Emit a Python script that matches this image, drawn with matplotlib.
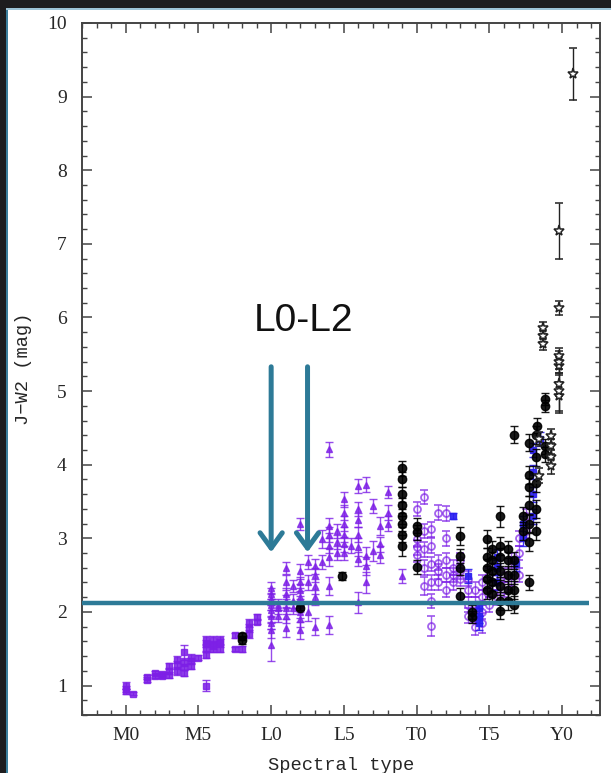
import matplotlib
matplotlib.use("Agg")
import matplotlib.pyplot as plt
from matplotlib.patches import Rectangle
from matplotlib.ticker import MultipleLocator, FixedLocator, FixedFormatter

# Spectral type is numeric: M0=0, L0=10, T0=20, Y0=30
tick_pos = [0, 5, 10, 15, 20, 25, 30]
tick_lab = ["M0", "M5", "L0", "L5", "T0", "T5", "Y0"]

# M dwarfs (purple squares)
m_spt = [0.0, 0.0, 0.0, 0.5, 1.5, 1.5, 2.0, 2.0, 2.5, 2.5, 3.0, 3.0, 3.0,
         3.5, 3.5, 3.5, 4.0, 4.0, 4.0, 4.0, 4.5, 4.5, 4.5, 5.0,
         5.5, 5.5, 5.5, 5.5, 5.5, 6.0, 6.0, 6.0, 6.5, 6.5, 6.5,
         7.5, 7.5, 8.0, 8.5, 8.5, 8.5, 9.0, 9.0]
m_col = [1.00, 0.95, 0.92, 0.89, 1.08, 1.12, 1.13, 1.17, 1.13, 1.16, 1.14, 1.20, 1.26,
         1.20, 1.28, 1.35, 1.17, 1.25, 1.32, 1.45, 1.27, 1.33, 1.38, 1.38,
         1.00, 1.42, 1.50, 1.57, 1.62, 1.50, 1.55, 1.62, 1.50, 1.58, 1.62,
         1.50, 1.68, 1.50, 1.70, 1.78, 1.85, 1.87, 1.93]
m_err = [0.05, 0.04, 0.03, 0.02, 0.03, 0.03, 0.03, 0.03, 0.03, 0.03, 0.04, 0.04, 0.04,
         0.05, 0.05, 0.05, 0.04, 0.04, 0.05, 0.10, 0.04, 0.04, 0.05, 0.03,
         0.08, 0.05, 0.05, 0.05, 0.05, 0.05, 0.05, 0.05, 0.05, 0.05, 0.05,
         0.03, 0.04, 0.04, 0.05, 0.05, 0.05, 0.04, 0.04]

# L dwarfs (purple triangles)
l_spt = [10.0] * 9 + [10.5] * 3 + [11.0] * 7 + [11.5] * 3 + [12.0] * 9 + [12.5] * 3 + \
        [13.0] * 5 + [13.5] * 2 + [14.0] * 7 + [14.5] * 3 + [15.0] * 6 + [15.5] + \
        [16.0] * 7 + [16.5] * 4 + [17.0] * 2 + [17.5] * 3 + [18.0] * 3 + [19.0]
l_col = [1.55, 1.75, 1.85, 1.95, 2.02, 2.10, 2.18, 2.25, 2.32,
         1.95, 2.05, 2.10,
         1.78, 1.95, 2.05, 2.15, 2.25, 2.40, 2.60,
         2.05, 2.15, 2.35,
         1.75, 1.90, 2.00, 2.10, 2.20, 2.30, 2.40, 2.55, 3.19,
         2.00, 2.40, 2.68,
         1.80, 2.20, 2.35, 2.50, 2.62,
         2.68, 2.99,
         1.82, 2.35, 2.75, 2.90, 3.05, 3.17, 4.21,
         2.80, 2.95, 3.10,
         2.80, 2.92, 3.05, 3.20, 3.35, 3.53,
         2.90,
         2.13, 2.72, 2.88, 3.05, 3.25, 3.40, 3.71,
         2.40, 2.62, 2.76, 3.73,
         2.83, 3.44,
         2.78, 2.92, 3.17,
         3.20, 3.35, 3.63,
         2.49]
l_err = [0.22, 0.10, 0.08, 0.08, 0.08, 0.08, 0.08, 0.08, 0.08,
         0.08, 0.08, 0.08,
         0.12, 0.10, 0.08, 0.08, 0.08, 0.10, 0.08,
         0.08, 0.10, 0.08,
         0.12, 0.10, 0.08, 0.08, 0.08, 0.08, 0.08, 0.10, 0.08,
         0.12, 0.10, 0.10,
         0.12, 0.10, 0.10, 0.10, 0.10,
         0.10, 0.12,
         0.12, 0.12, 0.12, 0.10, 0.10, 0.10, 0.10,
         0.10, 0.10, 0.10,
         0.10, 0.10, 0.10, 0.10, 0.10, 0.10,
         0.10,
         0.14, 0.10, 0.12, 0.10, 0.10, 0.10, 0.10,
         0.14, 0.12, 0.12, 0.10,
         0.14, 0.10,
         0.12, 0.10, 0.12,
         0.10, 0.10, 0.08,
         0.10]

# T dwarfs (purple open circles)
t_spt = [20.0] * 4 + [20.5] * 5 + [21.0] * 6 + [21.5] * 4 + [22.0] * 5 + [22.5] * 3 + \
        [23.0] * 3 + [23.5] * 4 + [24.0] * 4 + [24.5] * 4 + [25.0] * 3 + [25.5] * 3 + \
        [26.0] * 2 + [26.5] * 2 + [27.0] * 3 + [27.5] * 2
t_col = [2.78, 2.88, 2.99, 3.40,
         2.35, 2.60, 2.85, 3.10, 3.56,
         1.81, 2.15, 2.40, 2.65, 2.90, 3.12,
         2.40, 2.55, 2.67, 3.35,
         2.30, 2.50, 2.70, 3.00, 3.34,
         2.40, 2.50, 2.60,
         2.45, 2.55, 2.70,
         1.95, 2.10, 2.30, 2.45,
         1.80, 1.95, 2.10, 2.30,
         1.85, 2.00, 2.20, 2.40,
         2.10, 2.30, 2.50,
         2.20, 2.40, 2.60,
         2.30, 2.50,
         2.40, 2.70,
         2.50, 2.80, 3.00,
         3.10, 3.30]
t_err = [0.10, 0.10, 0.10, 0.10,
         0.12, 0.10, 0.10, 0.10, 0.10,
         0.14, 0.10, 0.10, 0.10, 0.10, 0.10,
         0.10, 0.10, 0.10, 0.10,
         0.10, 0.10, 0.10, 0.10, 0.10,
         0.10, 0.10, 0.10,
         0.10, 0.10, 0.10,
         0.10, 0.10, 0.10, 0.10,
         0.12, 0.10, 0.10, 0.10,
         0.14, 0.10, 0.10, 0.10,
         0.10, 0.10, 0.10,
         0.10, 0.10, 0.10,
         0.10, 0.10,
         0.10, 0.10,
         0.10, 0.10, 0.10,
         0.10, 0.10]

# Second sample (black filled circles)
k_spt = [8.0, 8.0, 12.0, 14.9,
         19.0, 19.0, 19.0, 19.0, 19.0, 19.0, 19.0, 19.0,
         20.0, 20.0, 20.0,
         23.0, 23.0, 23.0, 23.0,
         23.8, 23.8,
         24.8, 24.8, 24.8, 24.8, 24.8,
         25.2, 25.2, 25.2, 25.2, 25.2,
         25.75, 25.75, 25.75, 25.75, 25.75, 25.75, 25.75,
         26.25, 26.25, 26.25, 26.25, 26.25,
         26.7, 26.7, 26.7, 26.7, 26.7,
         27.3, 27.3,
         27.7, 27.7, 27.7, 27.7, 27.7, 27.7, 27.7,
         28.2, 28.2, 28.2, 28.2, 28.2,
         28.3,
         28.8, 28.8, 28.8, 28.8]
k_col = [1.62, 1.67, 2.06, 2.49,
         2.90, 3.05, 3.20, 3.30, 3.45, 3.60, 3.80, 3.95,
         2.61, 3.08, 3.17,
         2.22, 2.60, 2.76, 3.03,
         1.93, 2.00,
         2.30, 2.45, 2.60, 2.75, 2.99,
         2.25, 2.40, 2.55, 2.70, 2.85,
         2.01, 2.15, 2.35, 2.55, 2.75, 2.90, 3.30,
         2.15, 2.30, 2.50, 2.70, 2.85,
         2.10, 2.30, 2.50, 2.70, 4.41,
         3.10, 3.30,
         2.40, 2.95, 3.20, 3.45, 3.70, 3.86, 4.30,
         3.10, 3.40, 3.75, 4.10, 4.40,
         4.53,
         4.14, 4.25, 4.80, 4.89]
k_err = [0.05, 0.05, 0.04, 0.05,
         0.14, 0.10, 0.10, 0.10, 0.10, 0.10, 0.10, 0.10,
         0.10, 0.10, 0.10,
         0.10, 0.10, 0.10, 0.12,
         0.08, 0.10,
         0.12, 0.12, 0.12, 0.12, 0.12,
         0.12, 0.12, 0.12, 0.12, 0.12,
         0.10, 0.12, 0.12, 0.12, 0.12, 0.12, 0.14,
         0.12, 0.12, 0.12, 0.12, 0.12,
         0.12, 0.12, 0.12, 0.12, 0.12,
         0.12, 0.12,
         0.10, 0.12, 0.12, 0.12, 0.12, 0.12, 0.12,
         0.12, 0.12, 0.12, 0.12, 0.12,
         0.10,
         0.10, 0.10, 0.08, 0.08]

# Third sample (blue filled)
b_spt = [22.5, 23.5, 24.3, 24.3, 24.3, 25.5, 25.5, 25.5, 26.8,
         27.3, 27.3, 28.0, 28.0, 28.0, 28.0, 28.5]
b_col = [3.30, 2.49, 1.85, 1.95, 2.05, 2.40, 2.60, 2.75, 2.65,
         3.00, 3.20, 3.30, 3.60, 3.90, 4.20, 4.35]
b_err = [0.04, 0.10, 0.10, 0.10, 0.10, 0.10, 0.10, 0.10, 0.10,
         0.10, 0.10, 0.10, 0.10, 0.10, 0.10, 0.10]

# Y dwarfs (black open stars)
y_spt = [28.4, 28.4, 28.7, 28.7, 28.7, 29.2, 29.2, 29.2, 29.2,
         29.75, 29.75, 29.75, 29.75, 29.75, 29.75, 29.75, 29.75, 30.75]
y_col = [3.85, 4.35, 5.64, 5.75, 5.86, 3.98, 4.10, 4.25, 4.39,
         4.93, 5.00, 5.09, 5.34, 5.40, 5.47, 6.13, 7.18, 9.31]
y_err = [0.10, 0.10, 0.08, 0.08, 0.08, 0.10, 0.10, 0.10, 0.10,
         0.20, 0.30, 0.15, 0.12, 0.15, 0.12, 0.10, 0.38, 0.35]

PURPLE = "#7d1fe6"
TEAL = "#2d7a97"
INK = "#262626"

fig = plt.figure(figsize=(6.11, 7.73), dpi=100, facecolor="white")

# slide frame around the plot
fig.patches.append(Rectangle((0, 0), 6 / 611, 1, transform=fig.transFigure,
                             facecolor="#1d1d1f", edgecolor="none", zorder=0))
fig.patches.append(Rectangle((6 / 611, 0), 1.6 / 611, 1 - 8 / 773, transform=fig.transFigure,
                             facecolor="#3b7e9c", edgecolor="none", zorder=0))
fig.patches.append(Rectangle((0, 1 - 8 / 773), 1, 8 / 773, transform=fig.transFigure,
                             facecolor="#1d1d1f", edgecolor="none", zorder=0))
fig.patches.append(Rectangle((6 / 611, 1 - 9.5 / 773), 1, 1.5 / 773, transform=fig.transFigure,
                             facecolor="#9cc3d6", edgecolor="none", zorder=0))

ax = fig.add_axes([82 / 611, 1 - 715 / 773, 518 / 611, 692 / 773])
ax.set_xlim(-3, 32.6)
ax.set_ylim(0.6, 10)

eb_kw = dict(linestyle="none", capsize=2.6, elinewidth=1.0, capthick=1.0)

ax.errorbar(m_spt, m_col, yerr=m_err, marker="s", ms=4.5, color=PURPLE, alpha=0.85,
            mec=PURPLE, mfc=PURPLE, zorder=3, **eb_kw)
ax.errorbar(l_spt, l_col, yerr=l_err, marker="^", ms=4.5, color=PURPLE, alpha=0.8,
            mec=PURPLE, mfc=PURPLE, zorder=3, **eb_kw)
ax.errorbar(t_spt, t_col, yerr=t_err, marker="o", ms=5, color=PURPLE, alpha=0.7,
            mec=PURPLE, mfc="none", mew=1.3, zorder=3, **eb_kw)
ax.errorbar(b_spt, b_col, yerr=b_err, marker="s", ms=4.5, color="#2a1ef0", alpha=0.9,
            mec="#2a1ef0", mfc="#2a1ef0", zorder=4, **eb_kw)
ax.errorbar(k_spt, k_col, yerr=k_err, marker="o", ms=6, color="black", alpha=0.9,
            mec="black", mfc="black", zorder=5, **eb_kw)
ax.errorbar(y_spt, y_col, yerr=y_err, marker="*", ms=8, color="#222222",
            mec="#222222", mfc="white", mew=1.1, zorder=6, **eb_kw)

# reference colour level and the L0-L2 markers
ax.plot([-3, 31.85], [2.12, 2.12], color=TEAL, lw=3.2, solid_capstyle="butt", zorder=7,
        clip_on=False)
for xa in (10.0, 12.5):
    ax.annotate("", xy=(xa, 2.81), xytext=(xa, 5.33),
                arrowprops=dict(arrowstyle="->,head_length=0.55,head_width=0.4",
                                color=TEAL, lw=3.6, shrinkA=0, shrinkB=0,
                                mutation_scale=20),
                zorder=8)
ax.text(12.2, 5.95, "L0-L2", ha="center", va="center", fontsize=28,
        family="Liberation Sans", color="#111111", zorder=9)

# axes styling
ax.xaxis.set_major_locator(FixedLocator(tick_pos))
ax.xaxis.set_major_formatter(FixedFormatter(tick_lab))
ax.xaxis.set_minor_locator(MultipleLocator(1))
ax.yaxis.set_major_locator(MultipleLocator(1))
ax.yaxis.set_minor_locator(MultipleLocator(0.2))
ax.tick_params(which="both", direction="in", top=True, right=True, color="#444444")
ax.tick_params(which="major", length=7, width=1.1)
ax.tick_params(which="minor", length=3.5, width=1.0)
ax.tick_params(axis="x", which="major", pad=9)
ax.tick_params(axis="y", which="major", pad=11)
for lab in ax.get_xticklabels() + ax.get_yticklabels():
    lab.set_family("Liberation Serif")
    lab.set_fontsize(14)
    lab.set_color(INK)
for sp in ax.spines.values():
    sp.set_color("#444444")
    sp.set_linewidth(1.4)

ax.set_xlabel("Spectral type", family="Liberation Mono", fontsize=13.5, color=INK)
ax.set_ylabel("J\u2212W2 (mag)", family="Liberation Mono", fontsize=13.5, color=INK)
ax.xaxis.set_label_coords(0.5, -0.06)
ax.yaxis.set_label_coords(-0.0965, 0.5)

fig.savefig("out.png", dpi=100, facecolor=fig.get_facecolor())
